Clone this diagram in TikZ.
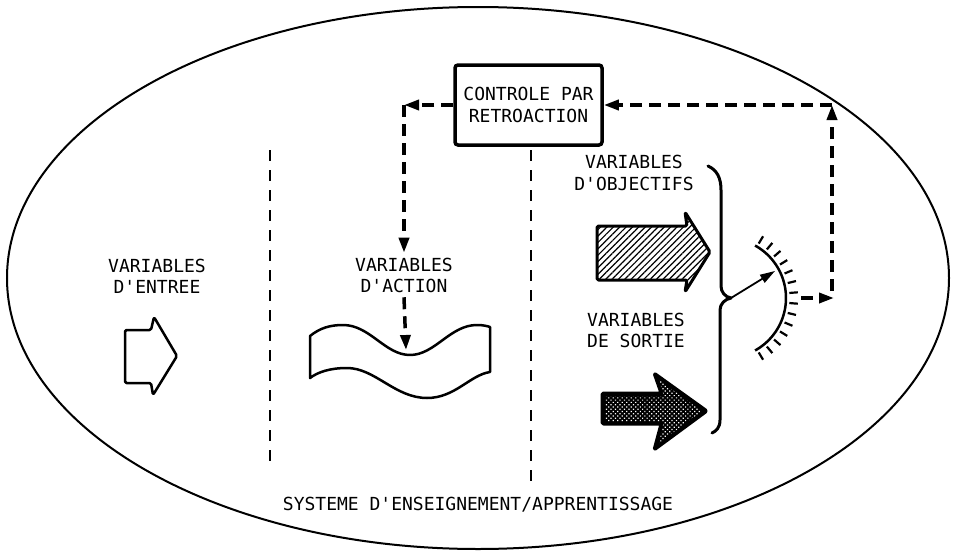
\documentclass[tikz,border=0pt]{standalone}
\usepackage{fontspec}
\setmonofont{DejaVu Sans Mono}
\usetikzlibrary{arrows.meta,patterns.meta}
\begin{document}
\begin{tikzpicture}[x=1pt,y=-1pt,
  lbl/.style={font=\ttfamily\fontsize{18}{21.5}\selectfont, align=center, inner sep=0pt},
  sepline/.style={line width=1.8pt, dash pattern=on 11pt off 9pt},
  fb/.style={line width=3.5pt, dash pattern=on 12pt off 7pt, -{Triangle[length=15pt,width=10pt]}},
  shp/.style={line width=2.5pt, line join=round, rounded corners=1.5pt},
  arrowshp/.style={line width=3pt, line join=round, rounded corners=1.5pt},
]
\useasboundingbox (0,0) rectangle (954,554);
% outer ellipse
\draw[line width=2pt] (478,278) ellipse [x radius=471, y radius=271];

% separators
\draw[sepline] (270,150) -- (270,466);
\draw[sepline] (531,150) -- (531,482);

% control box
\node[draw, line width=3.5pt, rounded corners=3pt, minimum width=147pt, minimum height=80pt, lbl] (ctrl) at (528.5,105) {CONTROLE PAR\\RETROACTION};

% labels
\node[lbl] (inp) at (157,276.5) {VARIABLES\\D'ENTREE};
\node[lbl] (act) at (404,275.5) {VARIABLES\\D'ACTION};
\node[lbl] (obj) at (634,173) {VARIABLES\\D'OBJECTIFS};
\node[lbl] (sor) at (636,330.5) {VARIABLES\\DE SORTIE};
\node[lbl] (sys) at (478,505) {SYSTEME D'ENSEIGNEMENT/APPRENTISSAGE};

% input arrow
\draw[shp] (125,330) -- (151,330) -- (154,317) -- (177,356) -- (153,395) -- (151,383) -- (125,383) -- cycle;

% wave (action)
\draw[line width=2.5pt, line join=round]
  (310,336) .. controls (320,328) and (330,325) .. (343,325)
  .. controls (370,325) and (385,355) .. (410,355)
  .. controls (435,355) and (450,325) .. (477,325)
  .. controls (483,325) and (487,326) .. (490,327)
  -- (490,372)
  .. controls (470,375) and (455,398) .. (427,398)
  .. controls (395,398) and (375,368) .. (347,368)
  .. controls (330,368) and (318,372) .. (310,378) -- cycle;
\coordinate (wavetop) at (406,350);

% objective arrow (hatched)
\draw[arrowshp, pattern={Lines[angle=45,distance=4.5pt,line width=1.2pt]}]
  (597,226) -- (687,226) -- (685,212) -- (710,252) -- (685,292) -- (687,280) -- (597,280) -- cycle;

% output arrow (dotted dark)
\draw[arrowshp, fill=black] (602,393) -- (661,393) -- (654,373) -- (707,411) -- (654,450) -- (661,424) -- (602,424) -- cycle;
\fill[pattern={Dots[distance=3.2pt,radius=0.85pt,angle=45]}, pattern color=white]
  (605,396) -- (664,396) -- (659,380) -- (702,411) -- (659,443) -- (664,421) -- (605,421) -- cycle;

% brace
\draw[line width=3pt, line cap=round, line join=round]
  (708,166) .. controls (717,170) and (721,178) .. (721,190) -- (721,286)
  .. controls (721,292) and (725,297) .. (731,298)
  .. controls (725,299) and (720,304) .. (720,310) -- (720,420)
  .. controls (720,428) and (716,431) .. (712,433);
\coordinate (btip) at (731,298);

% gauge
\draw[line width=2.5pt] plot[domain=-61:61, samples=50] ({726+60*cos(\x)},{298-60*sin(\x)});
\foreach \i in {0,...,13}{
  \pgfmathsetmacro\a{59-\i*118/13}
  \draw[line width=2.2pt] ({726+63.5*cos(\a)},{298-63.5*sin(\a)}) -- ({726+72*cos(\a)},{298-72*sin(\a)});
}
\coordinate (needle) at (775,271);
\draw[line width=1.8pt, -{Triangle[length=15pt,width=9pt]}] (btip) -- (needle);

% feedback loop
\coordinate (gstart) at (801,298);
\coordinate (gout) at (834,298);
\coordinate (gcorner) at (832,291);
\coordinate (fbR) at (832,105);
\coordinate (fbL) at (404,105);
\draw[fb] (gstart) -- (gout);
\draw[fb] (gcorner) -- (fbR);
\draw[fb] (fbR) -- (ctrl.east);
\draw[fb] (ctrl.west) -- (fbL);
\draw[fb] (fbL) -- ([yshift=5pt]act.north);
\draw[fb] ([yshift=-4pt]act.south) -- (wavetop);
\end{tikzpicture}
\end{document}
